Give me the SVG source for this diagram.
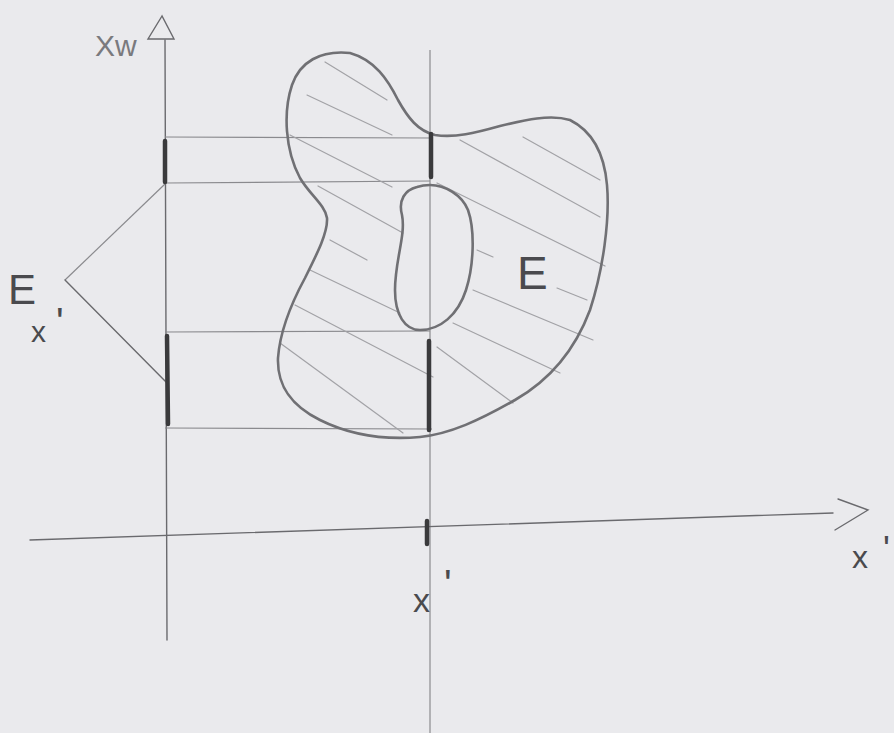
<svg xmlns="http://www.w3.org/2000/svg" width="894" height="733" viewBox="0 0 894 733">
<style>
.axis{stroke:#6a6a6e;stroke-width:1.4;fill:none;stroke-linecap:round}
.thin{stroke:#8a8a8e;stroke-width:1.2;fill:none}
.hatch{stroke:#a2a2a6;stroke-width:1.2;fill:none;stroke-linecap:round}
.blob{stroke:#707074;stroke-width:2.6;fill:none;stroke-linejoin:round}
.seg{stroke:#3a3a3c;stroke-width:4.5;stroke-linecap:round}
.lbl{font-family:"Liberation Sans",Arial,sans-serif;fill:#4a4a4e;font-weight:300}
</style>
<rect width="894" height="733" fill="#eaeaed"/>
<g id="axes">
<line class="axis" x1="165" y1="40" x2="167" y2="640"/>
<path class="axis" d="M162,16 L148,39 L174,39 Z"/>
<line class="thin" x1="430" y1="50" x2="430" y2="733"/>
<line class="axis" x1="30" y1="540" x2="833" y2="513"/>
<path class="axis" d="M838,499 L868,510 L835,530" stroke-width="2"/>
<line class="seg" x1="427" y1="521" x2="427" y2="544" stroke="#7a7a7e" stroke-width="4"/>
</g>
<g id="connectors">
<line class="thin" x1="165" y1="137" x2="432" y2="138"/>
<line class="thin" x1="165" y1="183" x2="430" y2="181"/>
<line class="thin" x1="165" y1="332" x2="430" y2="331"/>
<line class="thin" x1="165" y1="428" x2="432" y2="429"/>
<line class="thin" x1="65" y1="280" x2="165" y2="184"/>
<line class="axis" x1="65" y1="280" x2="168" y2="384"/>
</g>
<g id="hatching">
<line class="hatch" x1="325" y1="62" x2="387" y2="100"/>
<line class="hatch" x1="307" y1="95" x2="392" y2="135"/>
<line class="hatch" x1="290" y1="135" x2="392" y2="187"/>
<line class="hatch" x1="318" y1="186" x2="403" y2="233"/>
<line class="hatch" x1="330" y1="240" x2="367" y2="260"/>
<line class="hatch" x1="310" y1="270" x2="400" y2="313"/>
<line class="hatch" x1="295" y1="305" x2="433" y2="377"/>
<line class="hatch" x1="280" y1="343" x2="403" y2="433"/>
<line class="hatch" x1="437" y1="347" x2="513" y2="403"/>
<line class="hatch" x1="453" y1="323" x2="560" y2="373"/>
<line class="hatch" x1="473" y1="290" x2="593" y2="340"/>
<line class="hatch" x1="477" y1="250" x2="493" y2="257"/>
<line class="hatch" x1="557" y1="288" x2="587" y2="300"/>
<line class="hatch" x1="437" y1="183" x2="605" y2="266"/>
<line class="hatch" x1="460" y1="140" x2="600" y2="217"/>
<line class="hatch" x1="523" y1="137" x2="600" y2="180"/>
</g>
<g id="setE">
<path class="blob" d="M350,53 C320,50 300,62 292,85 C283,112 285,150 300,178 C310,195 325,205 327,218 C328,232 318,252 305,278 C292,302 280,330 278,358 C277,385 290,405 320,420 C350,435 385,440 420,437 C450,434 480,420 515,400 C550,380 575,350 590,310 C603,270 610,220 607,185 C604,150 590,130 570,120 C550,114 525,120 500,126 C475,133 455,138 435,135 C418,131 408,118 398,100 C388,80 375,60 350,53 Z"/>
<path class="blob" d="M417,187 C405,190 398,200 402,215 C406,235 395,260 395,290 C395,315 405,330 420,330 C440,330 458,315 466,290 C474,265 475,230 468,210 C462,195 445,185 430,185 C424,185 420,186 417,187 Z"/>
<text class="lbl" x="517" y="289" font-size="46">E</text>
</g>
<g id="segments">
<line class="seg" x1="165" y1="141" x2="165" y2="182"/>
<line class="seg" x1="167" y1="336" x2="168" y2="424"/>
<line class="seg" x1="431" y1="134" x2="431" y2="177"/>
<line class="seg" x1="429" y1="341" x2="429" y2="430"/>
</g>
<g id="labels">
<text class="lbl" x="95" y="56" font-size="30" style="fill:#7a7a7e">Xw</text>
<text class="lbl" x="8" y="304" font-size="42">E</text>
<text class="lbl" x="31" y="342" font-size="30">x<tspan x="56" y="336" font-size="40">'</tspan></text>
<text class="lbl" x="413" y="612" font-size="34">x<tspan x="444" y="598" font-size="40">'</tspan></text>
<text class="lbl" x="852" y="568" font-size="32">x<tspan x="883" y="562" font-size="36">'</tspan></text>
</g>
</svg>
